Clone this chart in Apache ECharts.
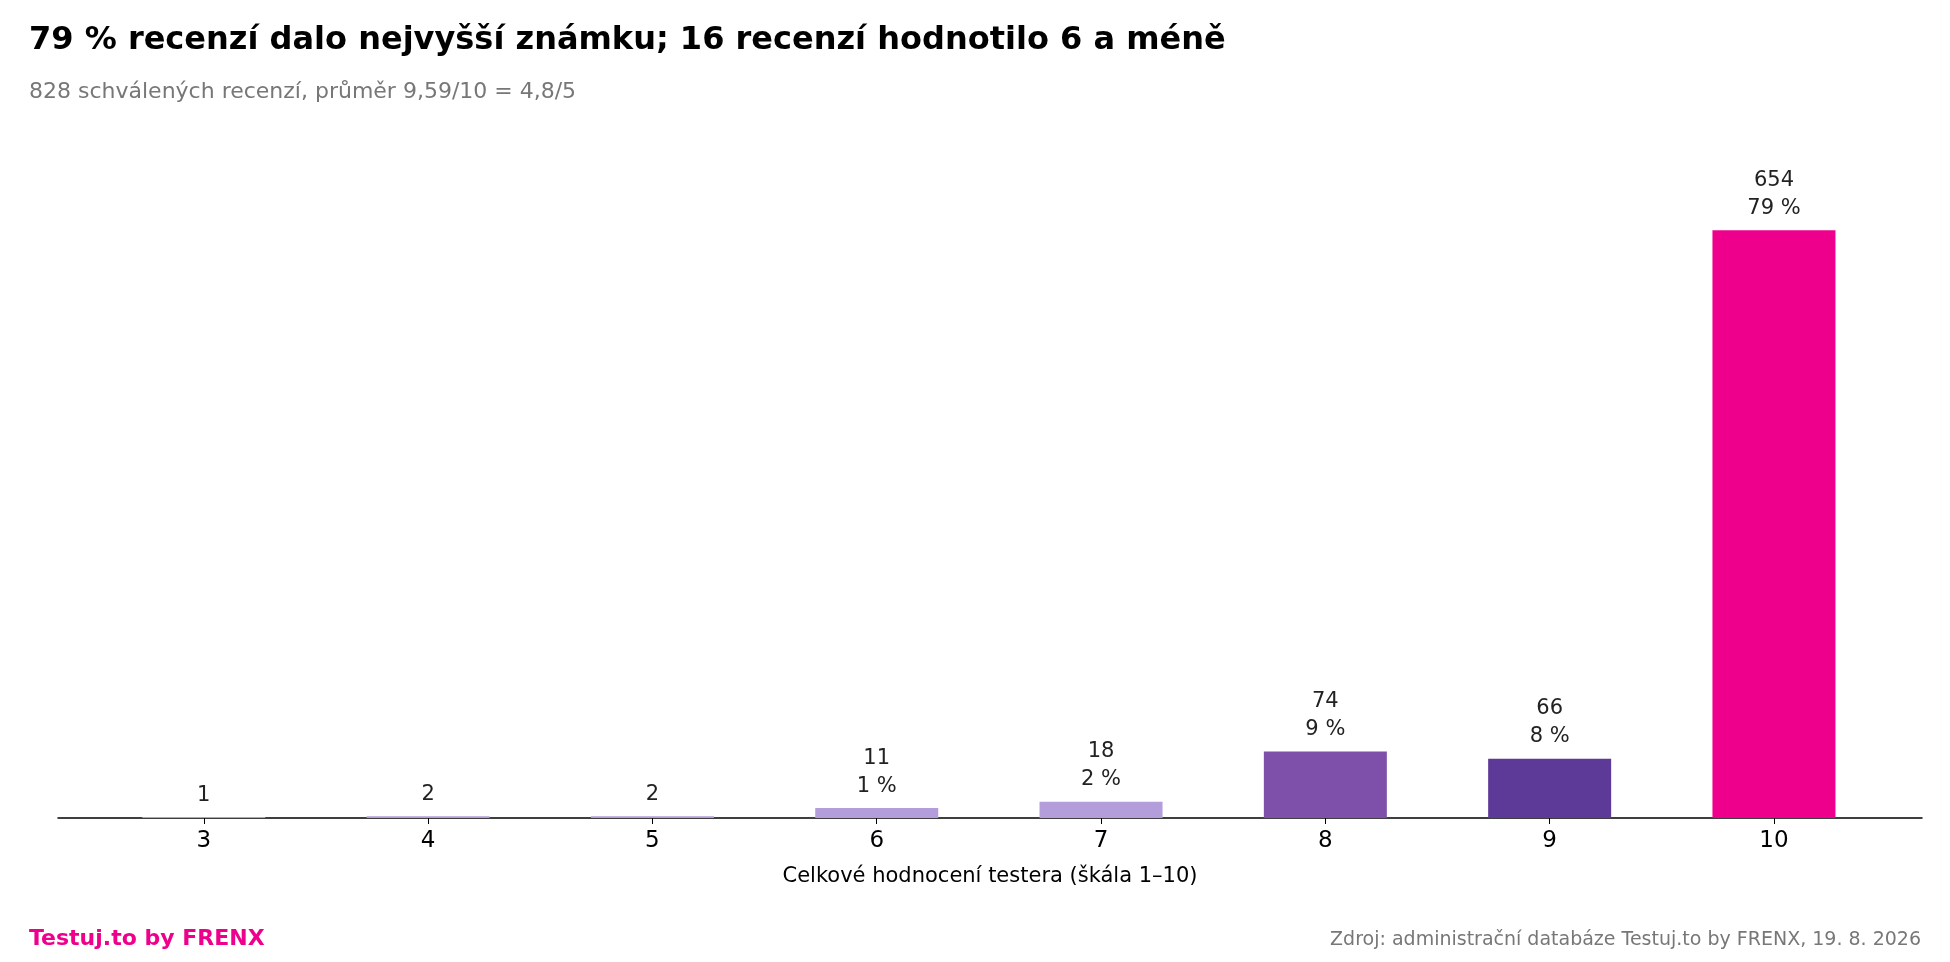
<!DOCTYPE html>
<html><head><meta charset="utf-8">
<script src="https://cdn.jsdelivr.net/npm/echarts@6/dist/echarts.min.js"></script>
<style>html,body{margin:0;background:#fff}#c{width:1950px;height:962px}</style>
</head><body><div id="c"></div>
<script>
var grades = [3, 4, 5, 6, 7, 8, 9, 10]
var counts = [1, 2, 2, 11, 18, 74, 66, 654]
var shares = [null, null, null, 1, 2, 9, 8, 79]
var colors = ["#b39ddb", "#b39ddb", "#b39ddb", "#b39ddb", "#b39ddb", "#7e50a9", "#5e3a98", "#ee008c"]

var chart = echarts.init(document.getElementById("c"))
var font = "DejaVu Sans"

var option = {
    animation: false,
    textStyle: { fontFamily: font },
    title: [
        { text: "79 % recenzí dalo nejvyšší známku; 16 recenzí hodnotilo 6 a méně", left: 24, top: 20,
          textStyle: { fontSize: 32, fontWeight: "bold", color: "#000", fontFamily: font } },
        { text: "828 schválených recenzí, průměr 9,59/10 = 4,8/5", left: 24, top: 76,
          textStyle: { fontSize: 22, fontWeight: "normal", color: "#777", fontFamily: font } },
        { text: "Testuj.to by FRENX", left: 24, top: 923,
          textStyle: { fontSize: 22, fontWeight: "bold", color: "#ee008c", fontFamily: font } },
        { text: "Zdroj: administrační databáze Testuj.to by FRENX, 19. 8. 2026", right: 24, top: 926,
          textStyle: { fontSize: 19, fontWeight: "normal", color: "#777", fontFamily: font } }
    ],
    grid: { left: 58, right: 28, top: 189, bottom: 144 },
    xAxis: {
        type: "value", min: 2.35, max: 10.66,
        name: "Celkové hodnocení testera (škála 1–10)", nameLocation: "middle", nameGap: 48,
        nameTextStyle: { fontSize: 21, color: "#000" },
        axisLine: { lineStyle: { color: "#000", width: 1.5 } },
        axisTick: { show: true, customValues: grades, length: 6, lineStyle: { color: "#000" } },
        axisLabel: { customValues: grades, fontSize: 23, color: "#000", margin: 12 },
        splitLine: { show: false }
    },
    yAxis: { type: "value", min: 0, max: 700, show: false, splitLine: { show: false } },
    series: [{
        type: "bar",
        barWidth: 123,
        data: grades.map(function (g, i) {
            return { value: [g, counts[i]], itemStyle: { color: colors[i] } }
        }),
        label: {
            show: true, position: "top", distance: 8, fontSize: 21, color: "#222", lineHeight: 28,
            formatter: function (p) {
                var s = shares[p.dataIndex]
                return s == null ? String(counts[p.dataIndex]) : counts[p.dataIndex] + "\n" + s + " %"
            }
        }
    }]
}
chart.setOption(option)
</script></body></html>
